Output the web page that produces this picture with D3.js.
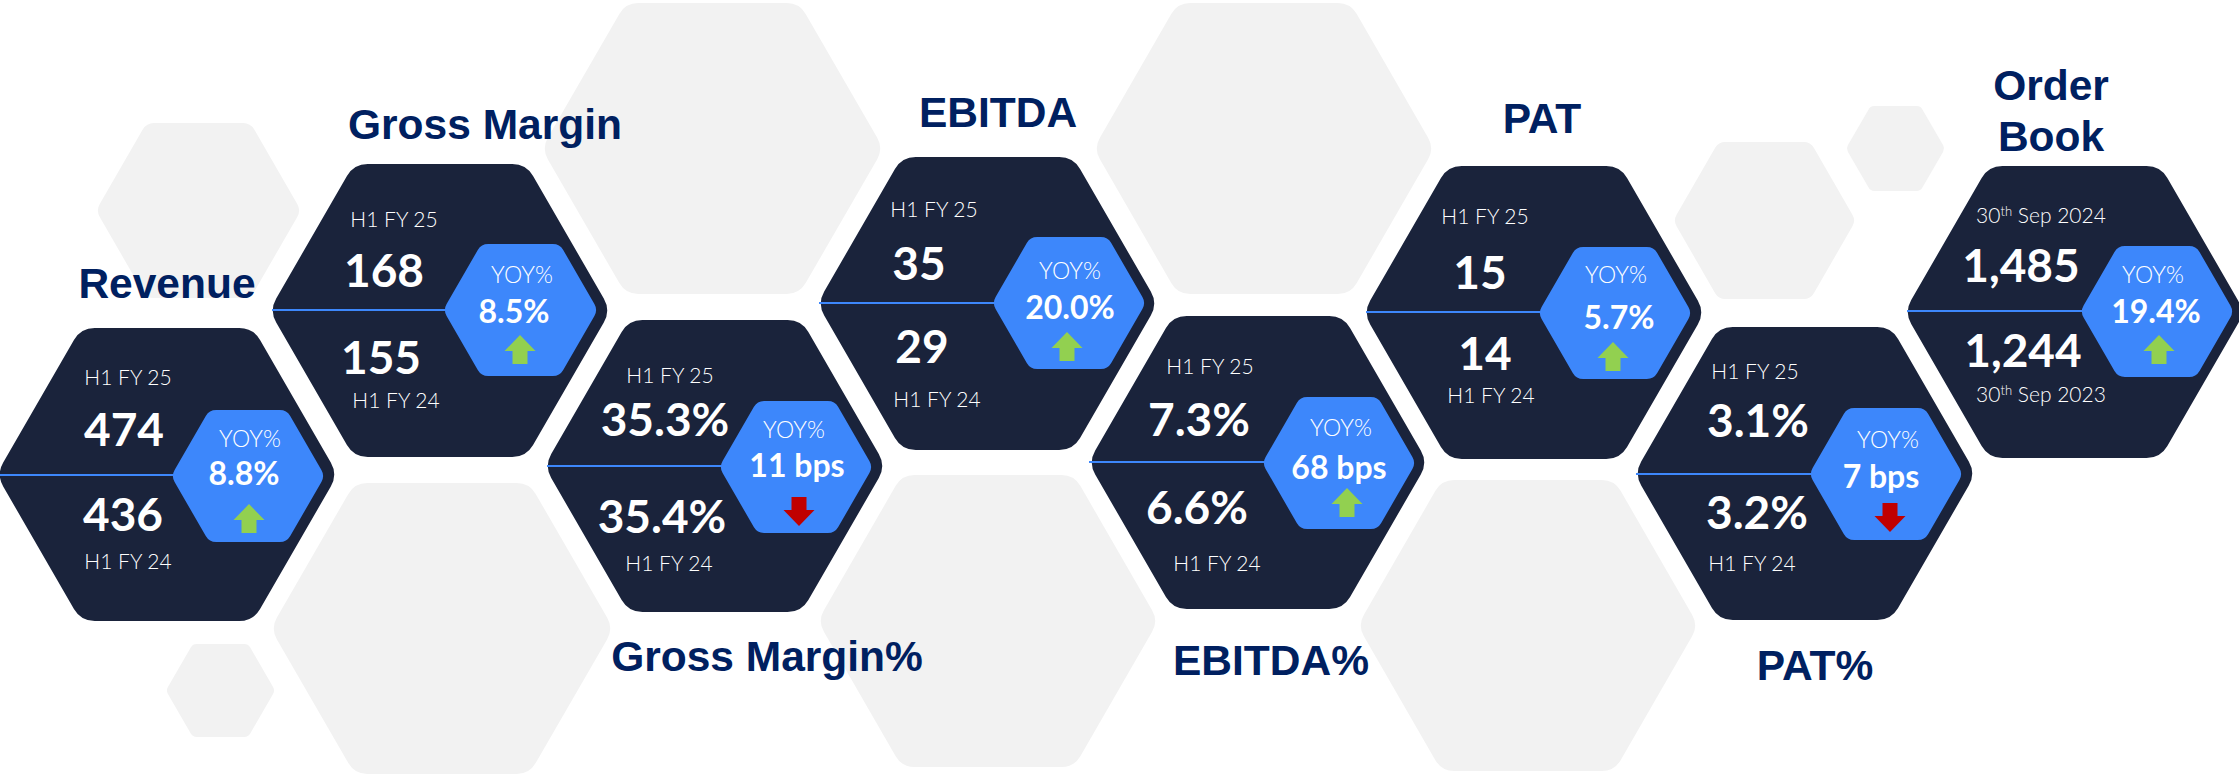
<!DOCTYPE html>
<html>
<head>
<meta charset="utf-8">
<script src="https://cdn.jsdelivr.net/npm/d3@7"></script>
<style>
  html, body { margin: 0; padding: 0; background: #fff; overflow: hidden; }
  svg { display: block; }
</style>
</head>
<body>
<div id="chart"></div>
<script>
//------------------------------------------------------
// 1) Values
//------------------------------------------------------
const titles = ["Revenue", "Gross Margin", "Gross Margin%", "EBITDA", "EBITDA%", "PAT", "PAT%", "Order Book"];
const currentValues = ["474", "168", "35.3%", "35", "7.3%", "15", "3.1%", "1,485"];
const priorValues = ["436", "155", "35.4%", "29", "6.6%", "14", "3.2%", "1,244"];
const currentLabels = ["H1 FY 25", "H1 FY 25", "H1 FY 25", "H1 FY 25", "H1 FY 25", "H1 FY 25", "H1 FY 25", "30|th| Sep 2024"];
const priorLabels = ["H1 FY 24", "H1 FY 24", "H1 FY 24", "H1 FY 24", "H1 FY 24", "H1 FY 24", "H1 FY 24", "30|th| Sep 2023"];
const yoyValues = ["8.8%", "8.5%", "11 bps", "20.0%", "68 bps", "5.7%", "7 bps", "19.4%"];
const yoyUp = [true, true, false, true, true, true, false, true];

//------------------------------------------------------
// 2) Layout (separate from the values)
//------------------------------------------------------
const width = 2239;
const height = 774;

// left, right, top, bottom
const grayBoxes = [
  [98, 299, 123, 298],
  [545, 880, 3, 294],
  [274, 610, 483, 774],
  [821, 1155, 475, 767],
  [1097, 1431, 3, 294],
  [1361, 1695, 480, 771],
  [1675, 1854, 142, 299],
  [1847, 1944, 106, 191],
  [167, 274, 644, 737]
];
const darkBoxes = [
  [0, 334, 328, 621],
  [273, 607, 164, 457],
  [548, 882, 320, 612],
  [821, 1154, 157, 450],
  [1092, 1424, 316, 609],
  [1367, 1701, 166, 459],
  [1638, 1972, 327, 620],
  [1908, 2241, 166, 458]
];
const blueBoxes = [
  [173, 323, 410, 542],
  [445, 596, 244, 376],
  [721, 871, 401, 533],
  [994, 1144, 237, 369],
  [1264, 1414, 397, 529],
  [1540, 1690, 247, 379],
  [1811, 1961, 408, 540],
  [2082, 2232, 246, 377]
];
// divider: x start, y
const dividers = [[0, 475], [272, 310], [547, 466], [819, 303], [1089, 462], [1366, 312], [1636, 474], [1907, 311]];
// [x, baseline]
const titlePos = [[167, 298], [485, 139], [767, 671], [998, 127], [1271, 675], [1542, 133], [1815, 680], [2051, 100]];
const currentLabelPos = [[128, 385], [394, 227], [670, 383], [934, 217], [1210, 374], [1485, 224], [1755, 379], [2041, 223]];
const currentValuePos = [[124, 446], [384, 287], [665, 436], [919, 280], [1199, 436], [1480, 289], [1758, 437], [2021, 282]];
const priorValuePos = [[123, 531], [381, 374], [662, 533], [922, 363], [1197, 524], [1485, 370], [1757, 529], [2023, 367]];
const priorLabelPos = [[128, 569], [396, 408], [669, 571], [937, 407], [1217, 571], [1491, 403], [1752, 571], [2041, 402]];
const yoyLabelPos = [[250, 447], [522, 283], [794, 438], [1070, 279], [1341, 436], [1616, 283], [1888, 448], [2153, 283]];
const yoyValuePos = [[244, 485], [514, 323], [797, 477], [1070, 319], [1339, 479], [1619, 329], [1881, 488], [2156, 323]];
// arrow: centre x, top y
const arrowPos = [[249, 504], [520, 335], [799, 497], [1067, 332], [1347, 488], [1613, 342], [1890, 503], [2159, 335]];

const titleFont = "'Liberation Sans', Arial, sans-serif";
const bodyFont = "Lato, 'Noto Sans', sans-serif";

//------------------------------------------------------
// 3) Helpers
//------------------------------------------------------
function hexPath([left, right, top, bottom], radius) {
  const cy = (top + bottom) / 2;
  const over = radius * 0.155;
  const x0 = left - over;
  const x1 = right + over;
  const inset = (bottom - top) * 0.2887;
  const pts = [
    [x0 + inset, top], [x1 - inset, top], [x1, cy],
    [x1 - inset, bottom], [x0 + inset, bottom], [x0, cy]
  ];
  const p = d3.path();
  p.moveTo((pts[0][0] + pts[1][0]) / 2, top);
  for (let i = 1; i <= 6; i++) {
    const a = pts[i % 6];
    const b = pts[(i + 1) % 6];
    p.arcTo(a[0], a[1], b[0], b[1], radius);
  }
  p.closePath();
  return p.toString();
}

function arrowPath([cx, y], up) {
  const dir = up ? 1 : -1;
  const y0 = up ? y : y + 29;
  const p = d3.path();
  p.moveTo(cx, y0);
  p.lineTo(cx + 15.5, y0 + dir * 16);
  p.lineTo(cx + 7.5, y0 + dir * 16);
  p.lineTo(cx + 7.5, y0 + dir * 29);
  p.lineTo(cx - 7.5, y0 + dir * 29);
  p.lineTo(cx - 7.5, y0 + dir * 16);
  p.lineTo(cx - 15.5, y0 + dir * 16);
  p.closePath();
  return p.toString();
}

// "30|th| Sep 2024" -> plain text with a raised middle part
function writeLabel(sel, text) {
  const parts = text.split("|");
  if (parts.length === 1) {
    sel.text(text);
    return;
  }
  sel.append("tspan").text(parts[0]);
  sel.append("tspan").attr("dy", -7).attr("font-size", 13).text(parts[1]);
  sel.append("tspan").attr("dy", 7).text(parts[2]);
}

//------------------------------------------------------
// 4) Drawing
//------------------------------------------------------
const svg = d3.select("#chart").append("svg")
  .attr("width", width)
  .attr("height", height)
  .attr("viewBox", [0, 0, width, height]);

svg.append("g").selectAll("path")
  .data(grayBoxes)
  .join("path")
  .attr("d", d => hexPath(d, (d[1] - d[0]) * 0.065))
  .attr("fill", "#f2f2f2");

const cards = svg.append("g").selectAll("g")
  .data(d3.range(titles.length))
  .join("g");

cards.append("path")
  .attr("d", i => hexPath(darkBoxes[i], 24))
  .attr("fill", "#1a233b");

cards.append("line")
  .attr("x1", i => dividers[i][0])
  .attr("x2", i => blueBoxes[i][0] + 2)
  .attr("y1", i => dividers[i][1])
  .attr("y2", i => dividers[i][1])
  .attr("stroke", "#3d87fb")
  .attr("stroke-width", 2);

cards.append("path")
  .attr("d", i => hexPath(blueBoxes[i], 12))
  .attr("fill", "#3d87fb");

cards.append("path")
  .attr("d", i => arrowPath(arrowPos[i], yoyUp[i]))
  .attr("fill", i => yoyUp[i] ? "#92d050" : "#c00000");

function addText(texts, pos, size, weight) {
  return cards.append("text")
    .attr("x", i => pos[i][0])
    .attr("y", i => pos[i][1])
    .attr("text-anchor", "middle")
    .attr("font-family", bodyFont)
    .attr("font-size", size)
    .attr("font-weight", weight)
    .attr("fill", "#fff")
    .each(function (i) { writeLabel(d3.select(this), texts[i]); });
}

addText(currentLabels, currentLabelPos, 21, 300);
addText(priorLabels, priorLabelPos, 21, 300);
addText(currentValues, currentValuePos, 46, 700);
addText(priorValues, priorValuePos, 46, 700);
addText(titles.map(() => "YOY%"), yoyLabelPos, 23, 300);
addText(yoyValues, yoyValuePos, 32, 700);

// titles, "Order Book" sits on two lines
const titleText = cards.append("text")
  .attr("x", i => titlePos[i][0])
  .attr("y", i => titlePos[i][1])
  .attr("text-anchor", "middle")
  .attr("font-family", titleFont)
  .attr("font-size", 42.5)
  .attr("font-weight", 700)
  .attr("fill", "#002060");

titleText.each(function (i) {
  const words = titles[i] === "Order Book" ? titles[i].split(" ") : [titles[i]];
  d3.select(this).selectAll("tspan")
    .data(words)
    .join("tspan")
    .attr("x", titlePos[i][0])
    .attr("dy", (d, k) => k === 0 ? 0 : 51)
    .text(d => d);
});
</script>
</body>
</html>
